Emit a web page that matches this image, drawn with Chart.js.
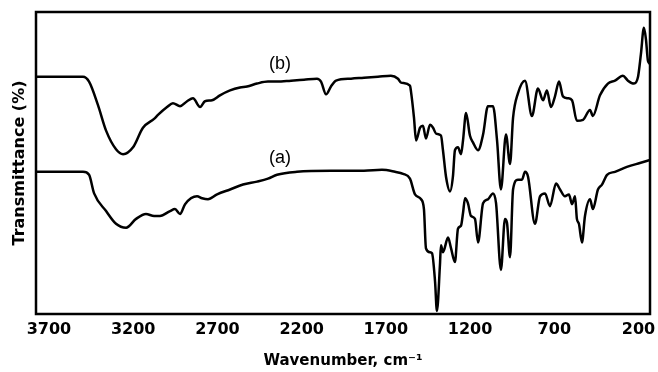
<!DOCTYPE html>
<html>
<head>
<meta charset="utf-8">
<script src="https://cdn.jsdelivr.net/npm/chart.js@4.4.1/dist/chart.umd.min.js"></script>
<style>
  body { margin: 0; background: #fff; }
  canvas { display: block; }
</style>
</head>
<body>
<canvas id="myChart" width="658" height="372"></canvas>
<script>
// wavenumber ticks (cm-1)
var xTicks = [3700, 3200, 2700, 2200, 1700, 1200, 700, 200];

// spectrum (b)
var bWave = [3777, 3498, 3462, 3409, 3361, 3302, 3260, 3201, 3142, 3076, 3053, 2999, 2964, 2922, 2880, 2845, 2803, 2774, 2732, 2685, 2625, 2566, 2524, 2465, 2400, 2346, 2263, 2186, 2109, 2085, 2055, 2026, 1996, 1907, 1830, 1747, 1670, 1628, 1610, 1557, 1551, 1533, 1521, 1497, 1480, 1462, 1438, 1420, 1402, 1373, 1361, 1343, 1319, 1302, 1290, 1272, 1254, 1242, 1224, 1201, 1183, 1153, 1123, 1094, 1064, 1040, 1017, 987, 963, 945, 916, 874, 833, 797, 767, 744, 720, 696, 672, 649, 619, 595, 566, 530, 488, 471, 429, 382, 340, 293, 263, 227, 203, 186, 168, 156, 144, 132];
var bTrans = [242, 242, 237, 213, 187, 168, 163, 170, 190, 199, 203, 211, 215, 212, 217, 220, 211, 217, 218, 223, 228, 231, 232, 235, 237, 237, 238, 239, 240, 237, 224, 232, 238, 240, 241, 242, 243, 240, 236, 233, 227, 200, 177, 190, 192, 179, 193, 190, 184, 182, 167, 140, 125, 140, 167, 170, 163, 177, 205, 182, 175, 167, 183, 212, 212, 177, 127, 183, 153, 200, 225, 238, 202, 230, 218, 228, 211, 222, 237, 222, 220, 218, 197, 198, 208, 202, 223, 235, 238, 243, 238, 235, 242, 265, 292, 280, 258, 255];

// spectrum (a)
var aWave = [3777, 3498, 3462, 3432, 3361, 3302, 3242, 3183, 3124, 3076, 3041, 2981, 2952, 2922, 2892, 2821, 2791, 2756, 2702, 2625, 2548, 2465, 2400, 2346, 2228, 2026, 1830, 1723, 1646, 1598, 1557, 1527, 1491, 1474, 1462, 1438, 1426, 1408, 1397, 1379, 1373, 1361, 1331, 1313, 1290, 1272, 1254, 1242, 1230, 1213, 1195, 1171, 1153, 1123, 1094, 1064, 1046, 1017, 993, 981, 963, 945, 916, 892, 874, 856, 815, 785, 755, 726, 690, 666, 637, 613, 595, 577, 566, 554, 536, 518, 488, 471, 441, 417, 387, 340, 269, 192, 132];
var aTrans = [145, 145, 142, 123, 105, 92, 88, 97, 102, 100, 100, 105, 107, 102, 112, 120, 118, 117, 122, 127, 132, 135, 138, 142, 145, 146, 146, 147, 145, 143, 138, 122, 117, 107, 67, 63, 62, 33, 3, 50, 70, 63, 78, 67, 53, 87, 90, 103, 118, 113, 100, 97, 73, 113, 117, 123, 113, 45, 97, 93, 58, 127, 137, 137, 145, 140, 92, 120, 123, 110, 133, 127, 120, 122, 112, 120, 97, 92, 73, 100, 117, 107, 127, 132, 142, 145, 150, 154, 157];

function toPoints(xs, ys){
    var pts = [];
    xs.forEach(function(x, i){
        pts.push({x: x, y: ys[i]});
    });
    return pts;
}

// frame round the plot + the (a)/(b) tags
var framePlugin = {
    id: 'frame',
    afterDraw: function(chart){
        var ctx = chart.ctx;
        var area = chart.chartArea;
        var xs = chart.scales.x;
        var ys = chart.scales.y;
        ctx.save();
        ctx.strokeStyle = '#000';
        ctx.lineWidth = 2.5;
        ctx.strokeRect(area.left, area.top, area.right - area.left, area.bottom - area.top);
        ctx.fillStyle = '#000';
        ctx.font = '18px "Liberation Sans", Arial, sans-serif';
        ctx.textAlign = 'center';
        ctx.textBaseline = 'middle';
        ctx.fillText('(b)', xs.getPixelForValue(2328), ys.getPixelForValue(255));
        ctx.fillText('(a)', xs.getPixelForValue(2328), ys.getPixelForValue(159));
        ctx.restore();
    }
};

function chart1(){
    const ctx = document.getElementById('myChart').getContext('2d');
    const myChart = new Chart(ctx, {
        type: 'line',
        data: {
            datasets: [{
                label: '(b)',
                data: toPoints(bWave, bTrans),
                borderColor: '#000',
                borderWidth: 2.5,
                pointRadius: 0,
                cubicInterpolationMode: 'monotone',
                fill: false
            }, {
                label: '(a)',
                data: toPoints(aWave, aTrans),
                borderColor: '#000',
                borderWidth: 2.5,
                pointRadius: 0,
                cubicInterpolationMode: 'monotone',
                fill: false
            }]
        },
        options: {
            responsive: false,
            animation: false,
            layout: { padding: { left: 6, right: 8, top: 12, bottom: 0 } },
            plugins: {
                legend: { display: false },
                tooltip: { enabled: false }
            },
            scales: {
                x: {
                    type: 'linear',
                    reverse: true,
                    min: 132,
                    max: 3777,
                    afterBuildTicks: function(scale){
                        scale.ticks = xTicks.map(function(v){ return {value: v}; });
                    },
                    afterFit: function(scale){
                        scale.paddingLeft = 0;
                        scale.paddingRight = 0;
                    },
                    grid: { display: false, drawTicks: false, tickLength: 0 },
                    border: { display: false },
                    ticks: {
                        autoSkip: false,
                        maxRotation: 0,
                        padding: 6,
                        color: '#000',
                        font: { family: '"DejaVu Sans", Verdana, sans-serif', size: 16, weight: 'bold' },
                        callback: function(v){ return String(v); }
                    },
                    title: {
                        display: true,
                        text: 'Wavenumber, cm⁻¹',
                        color: '#000',
                        padding: { top: 6.8, bottom: 2 },
                        font: { family: '"DejaVu Sans", Verdana, sans-serif', size: 15, weight: 'bold' }
                    }
                },
                y: {
                    min: 0,
                    max: 308,
                    grid: { display: false, drawTicks: false, tickLength: 0 },
                    border: { display: false },
                    ticks: { display: false },
                    title: {
                        display: true,
                        text: 'Transmittance (%)',
                        color: '#000',
                        padding: { top: 4.4, bottom: 6.4 },
                        font: { family: '"DejaVu Sans", Verdana, sans-serif', size: 16, weight: 'bold' }
                    }
                }
            }
        },
        plugins: [framePlugin]
    });
}
chart1()
</script>
</body>
</html>
